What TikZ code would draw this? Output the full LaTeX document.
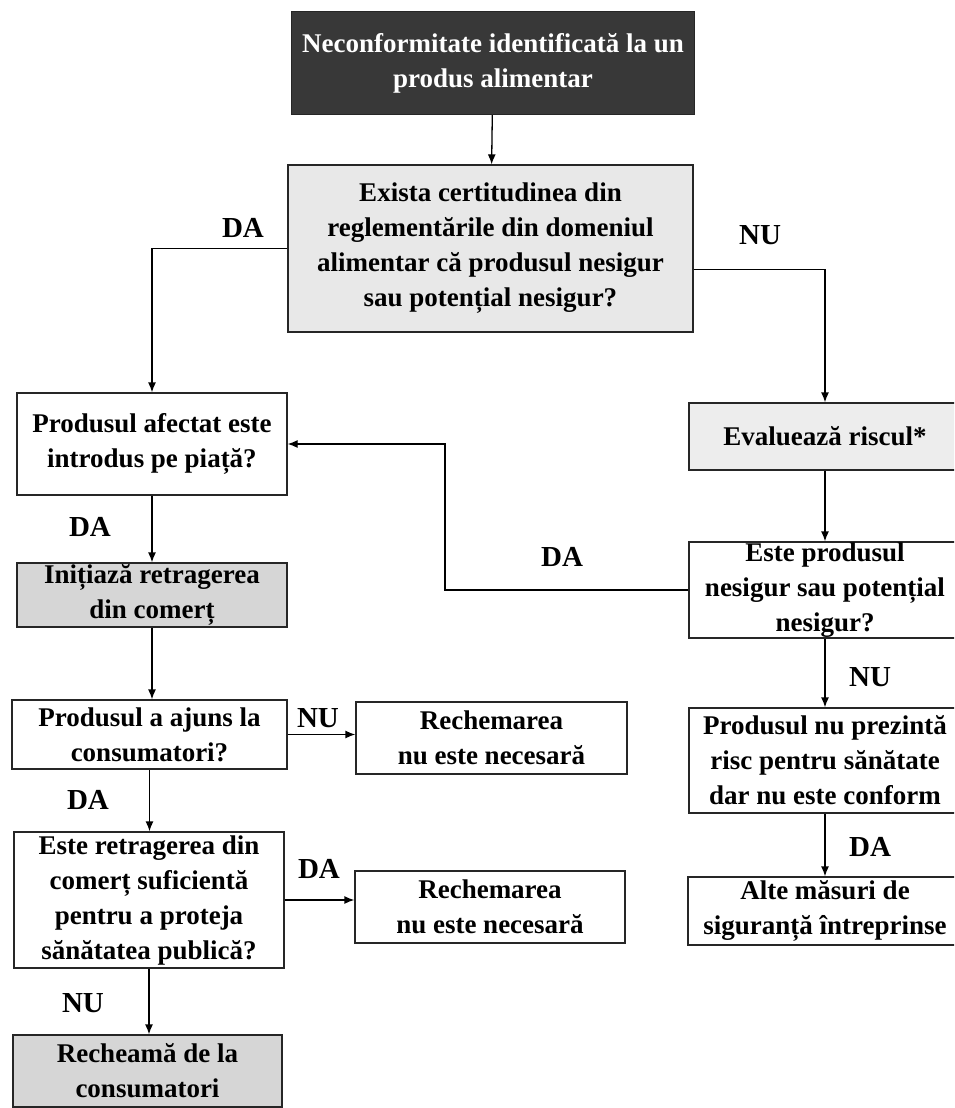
\documentclass[tikz,border=0pt]{standalone}
\usepackage{fontspec}
\setmainfont{Liberation Serif}
\usetikzlibrary{arrows.meta}
\tikzset{
  box/.style={draw=black!85,line width=1.3pt,inner sep=0pt,align=center,
    font=\fontsize{27}{35}\selectfont\bfseries},
  lbl/.style={font=\fontsize{29}{30}\selectfont\bfseries},
  arr/.style={line width=1.3pt,-{Latex[length=10pt,width=8pt]}}
}
\begin{document}
\begin{tikzpicture}[x=1pt,y=-1pt]
\useasboundingbox (0,0) rectangle (954,1108);
\clip (0,0) rectangle (954,1108);
\fill[white] (0,0) rectangle (954,1108);
% coloana din mijloc
\node[box,fill=black!78,text=white,minimum width=403pt,minimum height=103pt] (start) at (493,63) {Neconformitate identificată la un\\produs alimentar};
\node[box,fill=black!9,minimum width=405pt,minimum height=167pt] (q1) at (490.5,248.5) {Exista certitudinea din\\reglementările din domeniul\\alimentar că produsul nesigur\\sau potențial nesigur?};
% coloana stanga
\node[box,minimum width=270pt,minimum height=102pt] (placed) at (152,444) {Produsul afectat este\\introdus pe piață?};
\node[box,fill=black!16,minimum width=270pt,minimum height=64pt] (withdraw) at (152,595) {Inițiază retragerea\\din comerț};
\node[box,minimum width=275pt,minimum height=69pt] (reached) at (149.5,734.5) {Produsul a ajuns la\\consumatori?};
\node[box,minimum width=271pt,minimum height=72pt] (rech1) at (491.5,738) {Rechemarea\\nu este necesară};
\node[box,minimum width=270pt,minimum height=136pt] (enough) at (149,900) {Este retragerea din\\comerț suficientă\\pentru a proteja\\sănătatea publică?};
\node[box,minimum width=270pt,minimum height=72pt] (rech2) at (490,907) {Rechemarea\\nu este necesară};
\node[box,fill=black!16,minimum width=269pt,minimum height=72pt] (recall) at (147.5,1071) {Recheamă de la\\consumatori};
% coloana dreapta
\node[box,fill=black!7,minimum width=272pt,minimum height=67pt] (risk) at (825,436.5) {Evaluează riscul*};
\node[box,minimum width=272pt,minimum height=96pt] (unsafe) at (825,590) {Este produsul\\nesigur sau potențial\\nesigur?};
\node[box,minimum width=272pt,minimum height=105pt] (noRisk) at (825,760.5) {Produsul nu prezintă\\risc pentru sănătate\\dar nu este conform};
\node[box,minimum width=274pt,minimum height=68pt] (other) at (825,911) {Alte măsuri de\\siguranță întreprinse};
% sageti
\draw[arr] (start) -- (q1);
\draw[arr] (q1.west) -| (placed.north);
\draw[arr] ([yshift=-21pt]q1.east) -| (risk.north);
\draw[arr] (risk) -- (unsafe);
\coordinate (fb) at (445,444);
\draw[arr] (unsafe.west) -| (fb) -- (placed.east);
\draw[arr] (unsafe) -- (noRisk);
\draw[arr] (noRisk) -- (other);
\draw[arr] (placed) -- (withdraw);
\draw[arr] (withdraw.south) -- (withdraw.south |- reached.north);
\draw[arr] (reached.east) -- (reached.east -| rech1.west);
\draw[arr] (reached.south) -- (reached.south |- enough.north);
\draw[arr] (enough.east) -- (enough.east -| rech2.west);
\draw[arr] (enough.south) -- (enough.south |- recall.north);
% etichete
\node[lbl] (da1) at (243,228) {DA};
\node[lbl] (nu1) at (760,235) {NU};
\node[lbl] (da2) at (90,527) {DA};
\node[lbl] (da3) at (562,557) {DA};
\node[lbl] (nu2) at (870,677) {NU};
\node[lbl] (nu3) at (318,718) {NU};
\node[lbl] (da4) at (88,800) {DA};
\node[lbl] (da5) at (870,847) {DA};
\node[lbl] (da6) at (319,869) {DA};
\node[lbl] (nu4) at (83,1003) {NU};
\end{tikzpicture}
\end{document}
